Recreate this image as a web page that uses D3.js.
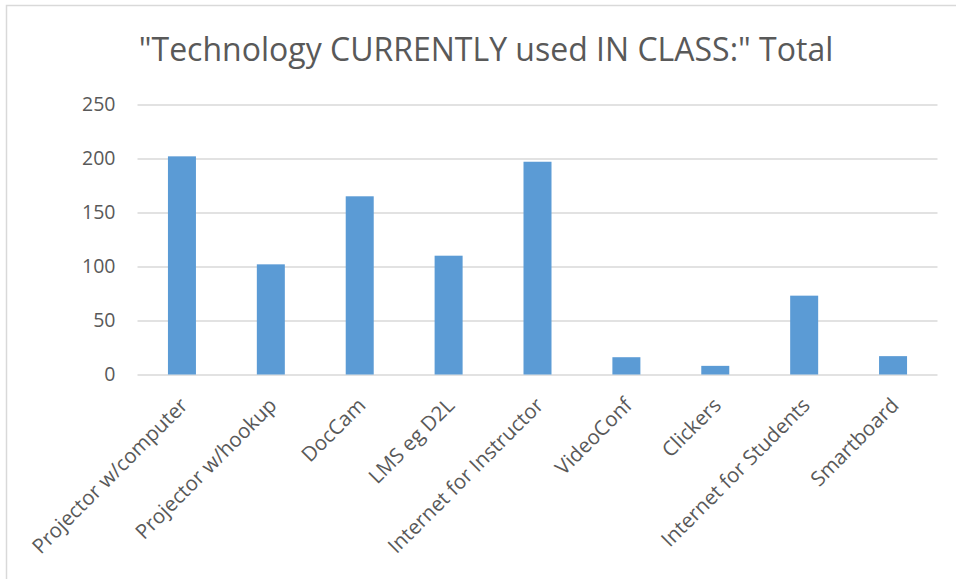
<!DOCTYPE html>
<html>
<head>
<meta charset="utf-8">
<script src="https://cdn.jsdelivr.net/npm/d3@7"></script>
<style>
  html, body { margin: 0; padding: 0; background: #fff; }
  svg { display: block; }
  text { font-family: "Open Sans", sans-serif; fill: #595959; }
</style>
</head>
<body>
<svg id="chart" width="956" height="579"></svg>
<script>
// Survey totals: technology currently used in class
const categories = [
  "Projector w/computer", "Projector w/hookup", "DocCam", "LMS eg D2L",
  "Internet for Instructor", "VideoConf", "Clickers", "Internet for Students", "Smartboard"
];
const totals = [202, 102, 165, 110, 197, 16, 8, 73, 17];
const yTicks = [0, 50, 100, 150, 200, 250];
const title = "\"Technology CURRENTLY used IN CLASS:\" Total";

const svg = d3.select("#chart");
const W = 956, H = 579;
const plot = { left: 137.5, right: 937.5, top: 104.5, bottom: 374.5 };

// chart frame
svg.append("rect")
  .attr("x", 6.5).attr("y", 5.5)
  .attr("width", W + 10).attr("height", H + 10)
  .attr("fill", "#fff").attr("stroke", "#d9d9d9").attr("stroke-width", 1.5);

const x = d3.scaleBand()
  .domain(categories)
  .range([plot.left, plot.right])
  .paddingInner(0.685)
  .paddingOuter(0.3425);

const y = d3.scaleLinear()
  .domain([0, 250])
  .range([plot.bottom, plot.top]);

// horizontal gridlines + tick labels
const yAxis = d3.axisLeft(y)
  .tickValues(yTicks)
  .tickSize(-(plot.right - plot.left))
  .tickPadding(22);

const gy = svg.append("g")
  .attr("transform", `translate(${plot.left},0)`)
  .call(yAxis);
gy.select(".domain").remove();
gy.selectAll(".tick line").attr("stroke", "#d9d9d9").attr("stroke-width", 1.3);
gy.selectAll(".tick text")
  .style("font-size", "19.5px")
  .attr("fill", "#595959");

// bars
svg.append("g")
  .selectAll("rect")
  .data(categories)
  .join("rect")
  .attr("x", d => x(d))
  .attr("width", x.bandwidth())
  .attr("y", (d, i) => y(totals[i]))
  .attr("height", (d, i) => y(0) - y(totals[i]))
  .attr("fill", "#5B9BD5");

// category labels, rotated
const xAxis = d3.axisBottom(x).tickSize(0).tickPadding(0);
const gx = svg.append("g")
  .attr("transform", `translate(0,${plot.bottom})`)
  .call(xAxis);
gx.select(".domain").remove();
gx.selectAll(".tick text")
  .style("font-size", "20.5px")
  .attr("fill", "#595959")
  .attr("text-anchor", "end")
  .attr("y", 0)
  .attr("dy", "0.35em")
  .attr("transform", "translate(2,27) rotate(-45)");

// title
svg.append("text")
  .attr("x", 486)
  .attr("y", 61)
  .attr("text-anchor", "middle")
  .style("font-size", "32px")
  .text(title);
</script>
</body>
</html>
